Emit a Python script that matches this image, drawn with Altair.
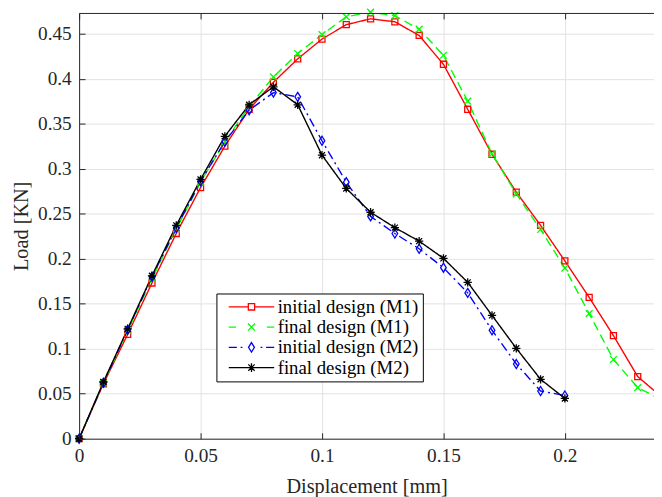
import altair as alt
import pandas as pd

# ---- data ----
series_names = ["initial design (M1)", "final design (M1)", "initial design (M2)", "final design (M2)"]
series_colors = ["#ff0000", "#00ff00", "#0000ff", "#000000"]

x_m1 = [0.0, 0.01, 0.02, 0.03, 0.04, 0.05, 0.06, 0.07, 0.08, 0.09, 0.10, 0.11, 0.12,
        0.13, 0.14, 0.15, 0.16, 0.17, 0.18, 0.19, 0.20, 0.21, 0.22, 0.23, 0.24]
initial_m1 = [0.0, 0.061, 0.116, 0.173, 0.228, 0.279, 0.325, 0.366, 0.396, 0.422, 0.444, 0.460, 0.4665,
              0.4632, 0.448, 0.416, 0.366, 0.316, 0.274, 0.237, 0.1975, 0.157, 0.1145, 0.069, 0.046]
final_m1 = [0.0, 0.062, 0.120, 0.178, 0.233, 0.285, 0.330, 0.369, 0.402, 0.428, 0.449, 0.4687, 0.474,
            0.470, 0.455, 0.426, 0.375, 0.3165, 0.272, 0.2324, 0.1896, 0.139, 0.088, 0.0568, 0.043]

x_m2 = [0.0, 0.01, 0.02, 0.03, 0.04, 0.05, 0.06, 0.07, 0.08, 0.09, 0.10, 0.11, 0.12,
        0.13, 0.14, 0.15, 0.16, 0.17, 0.18, 0.19, 0.20]
initial_m2 = [0.0, 0.062, 0.121, 0.180, 0.234, 0.286, 0.330, 0.365, 0.3845, 0.3798, 0.331, 0.285, 0.247,
              0.228, 0.211, 0.190, 0.162, 0.1205, 0.083, 0.053, 0.048]
final_m2 = [0.0, 0.063, 0.122, 0.181, 0.237, 0.288, 0.336, 0.371, 0.391, 0.371, 0.315, 0.278, 0.2516,
            0.2345, 0.2195, 0.2004, 0.1737, 0.137, 0.1004, 0.066, 0.0447]

x_ticks = [0, 0.05, 0.1, 0.15, 0.2]
y_ticks = [0, 0.05, 0.1, 0.15, 0.2, 0.25, 0.3, 0.35, 0.4, 0.45]
x_domain = [0, 0.2367]
y_domain = [0, 0.473]

rows = []
for name, xs, ys in [(series_names[0], x_m1, initial_m1), (series_names[1], x_m1, final_m1),
                     (series_names[2], x_m2, initial_m2), (series_names[3], x_m2, final_m2)]:
    for xv, yv in zip(xs, ys):
        rows.append({"x": xv, "y": yv, "series": name})
df = pd.DataFrame(rows)

# ---- styling ----
FONT = "Liberation Serif"
AX = "#262626"
GRID = "#e2e2e2"

marker_paths = [
    "M-0.8,-0.8H0.8V0.8H-0.8Z",                                   # square
    "M-0.9,-0.9L0.9,0.9M0.9,-0.9L-0.9,0.9",                       # x
    "M0,-1.2L0.75,0L0,1.2L-0.75,0Z",                              # diamond
    "M-0.8,-0.8L0.8,0.8M0.8,-0.8L-0.8,0.8M0,-1.1V1.1M-1.1,0H1.1",  # asterisk
]
legend_paths = [
    "M-5.75,0H-0.8M0.8,0H5.75M-0.8,-0.8H0.8V0.8H-0.8Z",
    "M-5.75,0H-3.9M3.9,0H5.75M-0.9,-0.9L0.9,0.9M0.9,-0.9L-0.9,0.9",
    "M-5.75,0H-3.7M-2.75,0H-2.3M2.3,0H2.75M3.7,0H5.75M0,-1.2L0.75,0L0,1.2L-0.75,0Z",
    "M-5.75,0H5.75M-0.8,-0.8L0.8,0.8M0.8,-0.8L-0.8,0.8M0,-1.1V1.1",
]
dashes = [[1, 0], [9, 5], [9, 4, 2, 4], [1, 0]]

xscale = alt.Scale(domain=x_domain, nice=False, zero=False)
yscale = alt.Scale(domain=y_domain, nice=False, zero=False)

main_x_axis = alt.Axis(values=x_ticks, format="~g", orient="bottom", ticks=False, tickSize=0,
                       domain=True, domainColor=AX, domainWidth=1, grid=True, gridColor=GRID,
                       labelFont=FONT, labelFontSize=19.5, labelColor=AX, labelPadding=8,
                       labelFlush=False, labelOverlap=False,
                       title="Displacement [mm]", titleFont=FONT, titleFontSize=20.5,
                       titleFontWeight="normal", titleColor=AX, titlePadding=12)
main_y_axis = alt.Axis(values=y_ticks, format="~g", orient="left", ticks=False, tickSize=0,
                       domain=True, domainColor=AX, domainWidth=1, grid=True, gridColor=GRID,
                       labelFont=FONT, labelFontSize=19.5, labelColor=AX, labelPadding=8,
                       labelFlush=False, labelOverlap=False,
                       title="Load [KN]", titleFont=FONT, titleFontSize=20.5,
                       titleFontWeight="normal", titleColor=AX, titlePadding=6)

def tick_axis(orient, values):
    return alt.Axis(values=values, orient=orient, offset=-6, tickSize=6, ticks=True,
                    tickColor=AX, tickWidth=1, labels=False, domain=False, grid=False,
                    title=None, zindex=1)

lines = alt.Chart(df).mark_line(strokeWidth=1.4, clip=True).encode(
    x=alt.X("x:Q", scale=xscale, axis=main_x_axis),
    y=alt.Y("y:Q", scale=yscale, axis=main_y_axis),
    color=alt.Color("series:N", scale=alt.Scale(domain=series_names, range=series_colors), legend=None),
    strokeDash=alt.StrokeDash("series:N", scale=alt.Scale(domain=series_names, range=dashes), legend=None),
)

points = alt.Chart(df).transform_filter("datum.x < 0.236").mark_point(
    filled=False, opacity=1, size=58, strokeWidth=1.3
).encode(
    x=alt.X("x:Q", scale=xscale, axis=tick_axis("bottom", x_ticks)),
    y=alt.Y("y:Q", scale=yscale, axis=tick_axis("left", y_ticks)),
    color=alt.Color("series:N", scale=alt.Scale(domain=series_names, range=series_colors), legend=None),
    shape=alt.Shape("series:N", scale=alt.Scale(domain=series_names, range=marker_paths), legend=None),
)

leg = alt.Legend(title=None, orient="none", legendX=139, legendY=284, direction="vertical",
                 labelFont=FONT, labelFontSize=19, labelColor="black", symbolSize=64,
                 symbolStrokeWidth=1.3, symbolOffset=22, labelOffset=17, padding=4,
                 strokeColor="black", fillColor="white", rowPadding=0.5, labelLimit=400)

legend_layer = alt.Chart(df).transform_filter("datum.x > 1").mark_point(
    filled=False, opacity=1, size=64, strokeWidth=1.3
).encode(
    x=alt.X("x:Q", scale=xscale, axis=tick_axis("top", x_ticks)),
    y=alt.Y("y:Q", scale=yscale, axis=None),
    color=alt.Color("series:N", scale=alt.Scale(domain=series_names, range=series_colors), legend=leg),
    shape=alt.Shape("series:N", scale=alt.Scale(domain=series_names, range=legend_paths), legend=leg),
)

border_layer = alt.Chart(df).transform_filter("datum.x > 1").mark_point(opacity=0).encode(
    x=alt.X("x:Q", scale=xscale, axis=alt.Axis(orient="top", domain=True, domainColor=AX,
                                                domainWidth=1, ticks=False, labels=False,
                                                grid=False, title=None, zindex=1)),
    y=alt.Y("y:Q", scale=yscale, axis=None),
)

chart = alt.layer(lines, points, legend_layer, border_layer).resolve_scale(
    color="independent", shape="independent", strokeDash="independent"
).resolve_axis(x="independent", y="independent").properties(
    width=582, height=431,
    padding={"left": 72, "top": 2, "right": 0, "bottom": 56},
    autosize=alt.AutoSizeParams(type="none"),
    background="white",
).configure(font=FONT).configure_view(strokeWidth=0).configure_axis(
    labelFont=FONT, titleFont=FONT
).configure_legend(labelFont=FONT, labelFontSize=19)

chart.save("out.html", embed_options={"renderer": "svg", "actions": False})
